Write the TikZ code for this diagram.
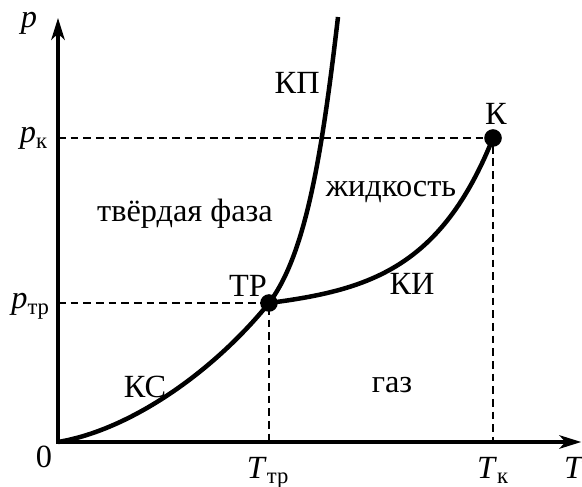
\documentclass[tikz,border=0pt]{standalone}
\usepackage{fontspec}
\setmainfont{Liberation Serif}[Ligatures=TeX]
\newfontfamily\diagfont{Liberation Serif}
\usetikzlibrary{arrows.meta}

\begin{document}
\begin{tikzpicture}[font=\diagfont\fontsize{23pt}{28pt}\selectfont,
  axis/.style={line width=2.3pt,{Stealth[length=5.5mm,width=3.4mm,inset=1.6mm]}-{Stealth[length=5.5mm,width=3.4mm,inset=1.6mm]}},
  curve/.style={line width=3.2pt},
  guide/.style={line width=1pt,dash pattern=on 5.5pt off 3.5pt},
  lbl/.style={anchor=base,inner sep=0pt}]
  \useasboundingbox (-1.45,-1.1) rectangle (13.1,11.05);
  \coordinate (o) at (0,0);
  \coordinate (ptop) at (0,10.6);
  \coordinate (tend) at (13.08,0);
  \coordinate (tr) at (5.275,3.475);
  \coordinate (k) at (10.875,7.6);
  \coordinate (mtop) at (7.0,10.625);
  % guide lines
  \draw[guide] (o |- k) -- (k) -- (k |- o);
  \draw[guide] (o |- tr) -- (tr) -- (tr |- o);
  % axes
  \draw[axis] (ptop) -- (o) -- (tend);
  % phase boundaries
  \draw[curve] (o) .. controls (1.8,0.3) and (3.875,1.745) .. (tr);
  \draw[curve] (tr) .. controls (6.2,4.7) and (6.6,7.2) .. (mtop);
  \draw[curve] (tr) .. controls (7.775,3.8) and (9.575,4.35) .. (k);
  \fill (tr) circle (0.22);
  \fill (k) circle (0.22);
  % axis labels
  \node[lbl] (lp) at (-0.725,10.35) {\textit{p}};
  \node[lbl,anchor=base east] (lpk) at (-0.25,7.475) {\textit{p}\textsubscript{к}};
  \node[lbl,anchor=base east] (lptr) at (-0.2,3.325) {\textit{p}\textsubscript{тр}};
  \node[lbl] (lo) at (-0.35,-0.625) {0};
  \node[lbl] (lttr) at (5.25,-0.9) {\textit{T}\textsubscript{тр}};
  \node[lbl] (ltk) at (10.875,-0.9) {\textit{T}\textsubscript{к}};
  \node[lbl] (lt) at (12.9,-0.9) {\textit{T}};
  % curve and region labels
  \node[lbl] (lks) at (2.175,1.1) {КС};
  \node[lbl] (ltrp) at (4.75,3.625) {ТР};
  \node[lbl] (lkp) at (5.98,8.7) {КП};
  \node[lbl] (lki) at (8.85,3.675) {КИ};
  \node[lbl] (lk) at (10.95,7.925) {К};
  \node[lbl] (solid) at (3.175,5.5) {твёрдая фаза};
  \node[lbl] (liquid) at (8.325,6.125) {жидкость};
  \node[lbl] (gas) at (8.35,1.225) {газ};
\end{tikzpicture}
\end{document}
